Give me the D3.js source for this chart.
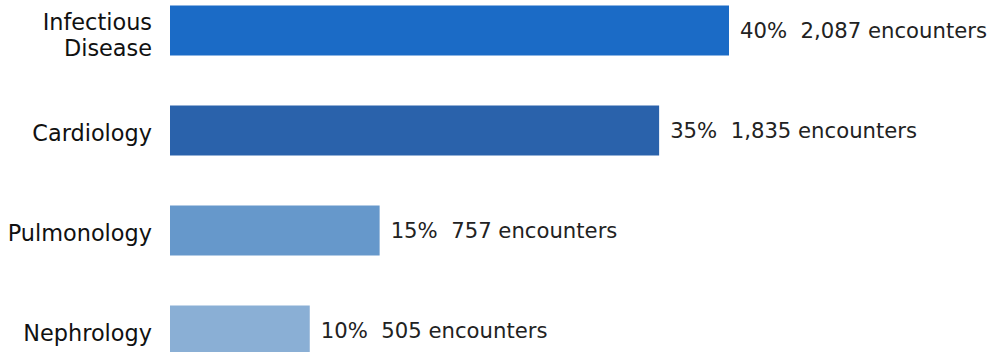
<!DOCTYPE html>
<html>
<head>
<meta charset="utf-8">
<script src="https://cdn.jsdelivr.net/npm/d3@7"></script>
<style>
  body { margin: 0; background: #fff; }
  svg { display: block; font-family: "DejaVu Sans", sans-serif; }
</style>
</head>
<body>
<div id="chart"></div>
<script>
// data
var categories = ["Infectious\nDisease", "Cardiology", "Pulmonology", "Nephrology"];
var percents = [40, 35, 15, 10];
var encounters = [2087, 1835, 757, 505];
var colors = ["#1b6bc6", "#2a62ab", "#6698cb", "#8aafd5"];

var width = 991, height = 352;

var svg = d3.select("#chart")
  .append("svg")
    .attr("width", width)
    .attr("height", height);

var x = d3.scaleLinear()
  .domain([0, 40])
  .range([170, 729]);

var y = d3.scaleBand()
  .domain(categories)
  .range([-19.5, 380.5])
  .paddingInner(0.5)
  .paddingOuter(0.25);

var rows = categories.map(function(c, i) {
  return {cat: c, pct: percents[i], n: encounters[i], color: colors[i]};
});

svg.selectAll("rect.bar")
  .data(rows)
  .enter()
  .append("rect")
    .attr("class", "bar")
    .attr("x", x(0))
    .attr("y", function(d) { return y(d.cat); })
    .attr("width", function(d) { return x(d.pct) - x(0); })
    .attr("height", y.bandwidth())
    .attr("fill", function(d) { return d.color; });

// value labels
svg.selectAll("text.val")
  .data(rows)
  .enter()
  .append("text")
    .attr("class", "val")
    .attr("x", function(d) { return x(d.pct) + 11; })
    .attr("y", function(d) { return y(d.cat) + y.bandwidth() / 2; })
    .attr("dy", "0.36em")
    .attr("font-size", "21.2px")
    .attr("fill", "#222")
    .text(function(d) { return d.pct + "%\u00a0\u00a0" + d3.format(",")(d.n) + " encounters"; });

// category labels (multi-line)
var lab = svg.selectAll("text.cat")
  .data(rows)
  .enter()
  .append("text")
    .attr("class", "cat")
    .attr("text-anchor", "end")
    .attr("font-size", "22.4px")
    .attr("fill", "#111")
    .attr("transform", function(d) {
      return "translate(152," + (y(d.cat) + y.bandwidth() / 2 + 2) + ")";
    });

lab.each(function(d) {
  var lines = d.cat.split("\n");
  var t = d3.select(this);
  var lh = 26;
  var off = -(lines.length - 1) * lh / 2 + (lines.length - 1) * 2;
  lines.forEach(function(l, k) {
    t.append("tspan")
      .attr("x", 0)
      .attr("y", off + k * lh)
      .attr("dy", "0.36em")
      .text(l);
  });
});
</script>
</body>
</html>
